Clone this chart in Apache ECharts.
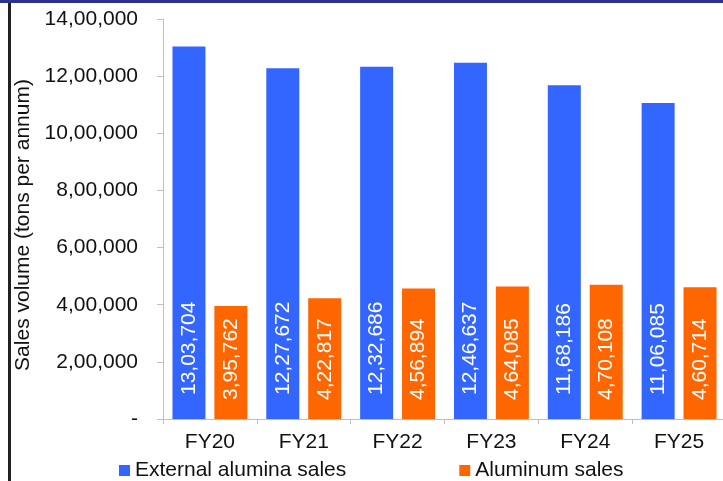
<!DOCTYPE html>
<html>
<head>
<meta charset="utf-8">
<script src="https://cdn.jsdelivr.net/npm/echarts@6/dist/echarts.min.js"></script>
<style>
html,body{margin:0;padding:0;background:#fff;}
#c{width:723px;height:481px;}
</style>
</head>
<body>
<div id="c"></div>
<script>
const categories = ['FY20', 'FY21', 'FY22', 'FY23', 'FY24', 'FY25'];
const aluminaSales = [1303704, 1227672, 1232686, 1246637, 1168186, 1106085];
const aluminumSales = [395762, 422817, 456894, 464085, 470108, 460714];
const seriesNames = ['External alumina sales', 'Aluminum sales'];
const yAxisName = 'Sales volume (tons per annum)';

function indian(n) {
  if (n === 0) return '-';
  const s = String(Math.round(n));
  if (s.length <= 3) return s;
  const last3 = s.slice(-3);
  const rest = s.slice(0, -3).replace(/\B(?=(\d{2})+(?!\d))/g, ',');
  return rest + ',' + last3;
}

const FONT = 'Liberation Sans, Arial, Helvetica, sans-serif';
const chart = echarts.init(document.getElementById('c'), null, {renderer: 'canvas'});
chart.setOption({
  animation: false,
  backgroundColor: '#ffffff',
  textStyle: {fontFamily: FONT},
  graphic: [
    {type: 'rect', shape: {x: 0, y: 0, width: 723, height: 3}, style: {fill: '#2e3192'}, z: 100},
    {type: 'rect', shape: {x: 8, y: 3, width: 3, height: 478}, style: {fill: '#231f20'}, z: 100},
    {type: 'text', x: 23, y: 225, rotation: Math.PI / 2,
     style: {text: yAxisName, font: '21px ' + FONT, fill: '#111', align: 'center', verticalAlign: 'middle'}, z: 100}
  ],
  grid: {left: 163, right: -3, top: 19, bottom: 62, containLabel: false, outerBoundsMode: 'none'},
  legend: {
    data: seriesNames,
    left: 119,
    top: 460,
    padding: 0,
    itemWidth: 11,
    itemHeight: 11,
    itemGap: 113,
    icon: 'rect',
    textStyle: {fontSize: 21, color: '#111', fontFamily: FONT}
  },
  xAxis: {
    type: 'category',
    data: categories,
    axisLine: {lineStyle: {color: '#bfbfbf', width: 1}},
    axisTick: {show: true, length: 5, lineStyle: {color: '#bfbfbf'}},
    axisLabel: {fontSize: 21, color: '#111', margin: 13, fontFamily: FONT}
  },
  yAxis: {
    type: 'value',
    min: 0,
    max: 1400000,
    interval: 200000,
    axisLine: {show: true, lineStyle: {color: '#bfbfbf', width: 1}},
    axisTick: {show: true, length: 6, lineStyle: {color: '#bfbfbf'}},
    splitLine: {show: false},
    axisLabel: {fontSize: 21, color: '#111', margin: 25, fontFamily: FONT, formatter: indian}
  },
  series: [
    {
      name: seriesNames[0],
      type: 'bar',
      data: aluminaSales,
      barWidth: 33,
      barGap: '27%',
      itemStyle: {color: '#3366ff'},
      label: {
        show: true, position: 'insideBottom', distance: 24, rotate: 90,
        align: 'left', verticalAlign: 'middle',
        color: '#fff', fontSize: 21, fontFamily: FONT,
        formatter: p => indian(p.value)
      }
    },
    {
      name: seriesNames[1],
      type: 'bar',
      data: aluminumSales,
      barWidth: 33,
      itemStyle: {color: '#ff6600'},
      label: {
        show: true, position: 'insideBottom', distance: 19, rotate: 90,
        align: 'left', verticalAlign: 'middle',
        color: '#fff', fontSize: 21, fontFamily: FONT,
        formatter: p => indian(p.value)
      }
    }
  ]
});
</script>
</body>
</html>
